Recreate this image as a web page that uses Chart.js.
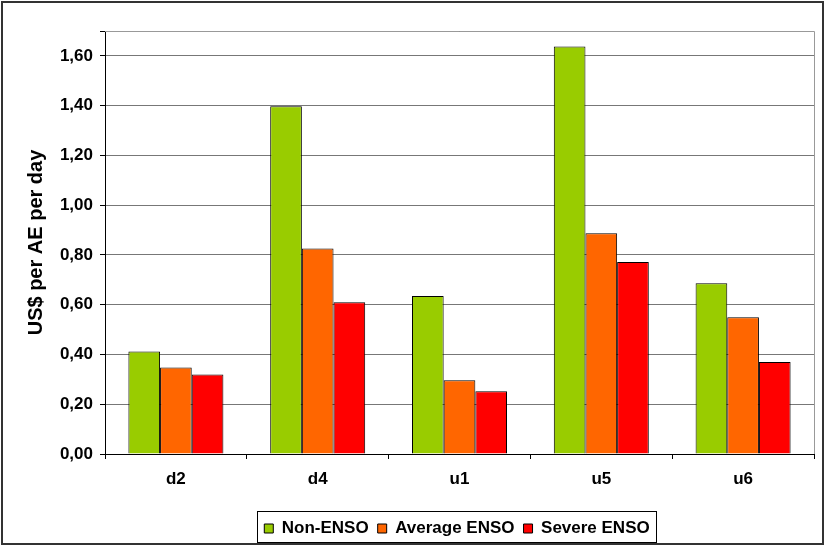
<!DOCTYPE html>
<html lang="en">
  <head>
    <meta charset="UTF-8" />
    <title>US$ per AE per day</title>
    <script src="https://cdn.jsdelivr.net/npm/chart.js"></script>
    <style>
      body { margin: 0; background: #fff; }
      #wrap { width: 826px; height: 547px; }
    </style>
  </head>
  <body>
    <div id="wrap"><canvas id="grafico"></canvas></div>

    <script>
      const categorias = ["d2", "d4", "u1", "u5", "u6"];
      const nonEnso = [0.412, 1.398, 0.635, 1.638, 0.686];
      const averageEnso = [0.348, 0.826, 0.296, 0.887, 0.55];
      const severeEnso = [0.32, 0.61, 0.252, 0.772, 0.37];

      Chart.defaults.font.family = "'Liberation Sans', Arial, sans-serif";
      Chart.defaults.font.weight = "bold";
      Chart.defaults.color = "#000";

      // moldura externa, borda da área do gráfico e caixa da legenda
      const molduras = {
        id: "molduras",
        afterLayout(chart) {
          // legenda um pouco deslocada para a direita, como no original
          const lg = chart.legend;
          lg.left += 46;
          lg.right += 46;
          lg.top += 4;
          lg.bottom += 4;
          lg.adjustHitBoxes();
        },
        afterDraw(chart) {
          const ctx = chart.ctx;
          const a = chart.chartArea;
          ctx.save();
          ctx.strokeStyle = "#999";
          ctx.lineWidth = 1;
          ctx.beginPath();
          ctx.moveTo(a.left, a.top + 0.5);
          ctx.lineTo(a.right + 0.5, a.top + 0.5);
          ctx.lineTo(a.right + 0.5, a.bottom);
          ctx.stroke();

          ctx.strokeStyle = "#333";
          ctx.lineWidth = 2;
          ctx.strokeRect(2, 2, 821, 542);

          const boxes = chart.legend.legendHitBoxes;
          if (boxes.length) {
            const x0 = boxes[0].left - 7;
            const last = boxes[boxes.length - 1];
            const x1 = last.left + last.width + 7;
            ctx.strokeStyle = "#000";
            ctx.lineWidth = 1;
            ctx.strokeRect(Math.round(x0) + 0.5, 511.5, Math.round(x1 - x0), 31);
          }
          ctx.restore();
        },
      };

      new Chart(grafico, {
        type: "bar",
        data: {
          labels: categorias,
          datasets: [
            { label: "Non-ENSO", data: nonEnso, backgroundColor: "#99CC00" },
            { label: "Average ENSO", data: averageEnso, backgroundColor: "#FF6600" },
            { label: "Severe ENSO", data: severeEnso, backgroundColor: "#FF0000" },
          ],
        },
        options: {
          responsive: true,
          maintainAspectRatio: false,
          animation: false,
          layout: { padding: { left: 8, right: 12, top: 31, bottom: 4 } },
          datasets: {
            bar: {
              categoryPercentage: 0.67,
              barPercentage: 1,
              borderColor: "#000",
              borderWidth: 1,
            },
          },
          plugins: {
            tooltip: { enabled: false },
            legend: {
              position: "bottom",
              labels: {
                boxWidth: 9,
                boxHeight: 9,
                padding: 9,
                font: { size: 17, weight: "bold" },
                generateLabels(chart) {
                  return chart.data.datasets.map((ds, i) => ({
                    text: ds.label,
                    fillStyle: ds.backgroundColor,
                    strokeStyle: "#000",
                    lineWidth: 1,
                    datasetIndex: i,
                  }));
                },
              },
            },
          },
          scales: {
            x: {
              grid: {
                offset: true,
                drawOnChartArea: false,
                tickLength: 5,
                color: "#000",
              },
              border: { color: "#000", width: 1 },
              ticks: { font: { size: 17, weight: "bold" }, padding: 10 },
              afterFit(scale) { scale.height = 53; },
            },
            y: {
              min: 0,
              max: 1.7,
              ticks: {
                stepSize: 0.2,
                font: { size: 17, weight: "bold" },
                padding: 7,
                callback: (v) => (v > 1.65 ? "" : v.toFixed(2).replace(".", ",")),
              },
              grid: { color: "#777", tickLength: 5, tickColor: "#000" },
              border: { color: "#000", width: 1 },
              title: {
                display: true,
                text: "US$ per AE per day",
                font: { size: 20, weight: "bold" },
                padding: { top: 16, bottom: 0 },
              },
              afterFit(scale) { scale.width = 97; },
            },
          },
        },
        plugins: [molduras],
      });
    </script>
  </body>
</html>
